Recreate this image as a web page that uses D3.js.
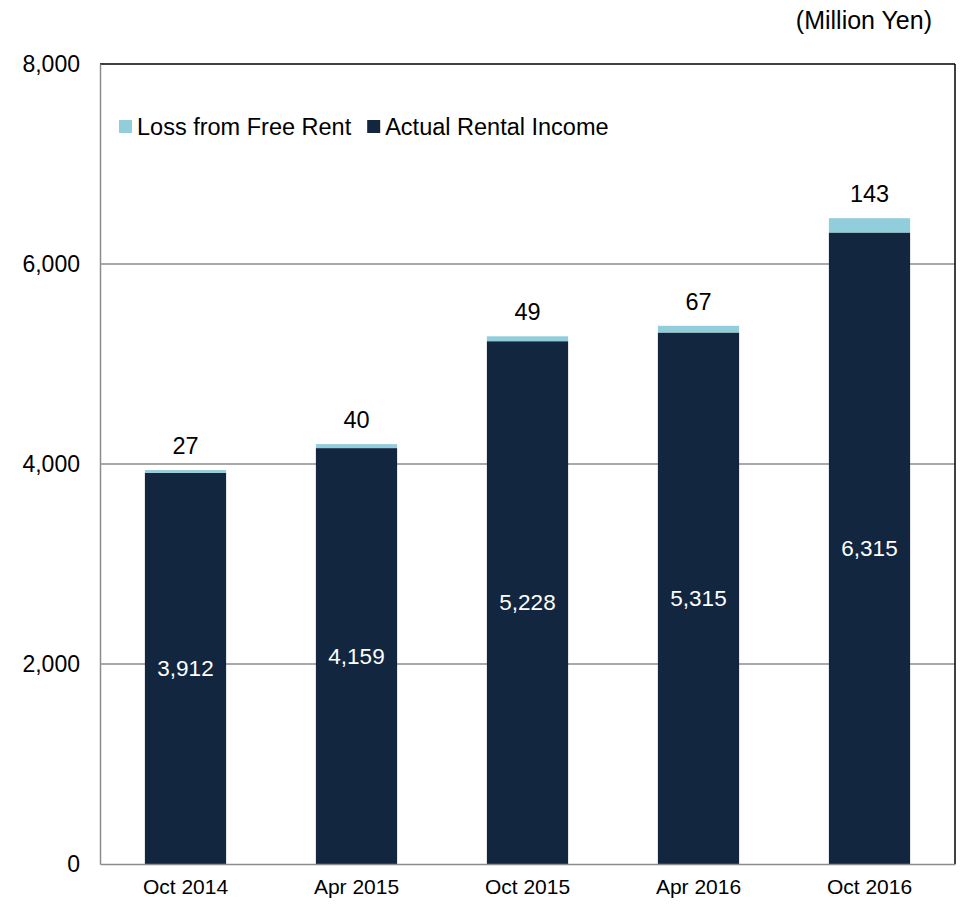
<!DOCTYPE html>
<html>
<head>
<meta charset="utf-8">
<script src="https://cdn.jsdelivr.net/npm/d3@7"></script>
<style>
  body { margin: 0; background: #fff; }
  svg { font-family: "Liberation Sans", Arial, sans-serif; }
</style>
</head>
<body>
<svg id="chart" width="964" height="904"></svg>
<script>
// chart data
var periods = ["Oct 2014", "Apr 2015", "Oct 2015", "Apr 2016", "Oct 2016"];
var actualIncome = [3912, 4159, 5228, 5315, 6315];
var freeRentLoss = [27, 40, 49, 67, 143];
var yTicks = [0, 2000, 4000, 6000, 8000];
var seriesNames = ["Loss from Free Rent", "Actual Rental Income"];
var colors = { loss: "#92cddc", actual: "#13263f" };

var margin = { top: 64, right: 9, bottom: 40, left: 100 };
var width = 964 - margin.left - margin.right,
    height = 904 - margin.top - margin.bottom;

var svg = d3.select("#chart");
var g = svg.append("g").attr("transform", `translate(${margin.left},${margin.top})`);

var x = d3.scaleBand().domain(periods).range([0, width]).paddingInner(0.525).paddingOuter(0.2625);
var y = d3.scaleLinear().domain([0, 8000]).range([height, 0]);

// gridlines
g.append("g").selectAll("line")
    .data(yTicks.filter(d => d > 0 && d < 8000))
    .join("line")
    .attr("x1", 0).attr("x2", width)
    .attr("y1", d => y(d)).attr("y2", d => y(d))
    .attr("stroke", "#8c8c8c").attr("stroke-width", 1.5);

// frame: top and right black
g.append("line").attr("x1", 0).attr("x2", width).attr("y1", y(8000)).attr("y2", y(8000))
    .attr("stroke", "#000").attr("stroke-width", 1.5);
g.append("line").attr("x1", width).attr("x2", width).attr("y1", 0).attr("y2", height)
    .attr("stroke", "#000").attr("stroke-width", 1.5);

var rows = periods.map((p, i) => ({ period: p, actual: actualIncome[i], loss: freeRentLoss[i] }));

// actual rental income
g.append("g").selectAll("rect")
    .data(rows)
    .join("rect")
    .attr("x", d => x(d.period))
    .attr("width", x.bandwidth())
    .attr("y", d => y(d.actual))
    .attr("height", d => y(0) - y(d.actual))
    .attr("fill", colors.actual);

// loss from free rent stacked on top
g.append("g").selectAll("rect")
    .data(rows)
    .join("rect")
    .attr("x", d => x(d.period))
    .attr("width", x.bandwidth())
    .attr("y", d => y(d.actual + d.loss))
    .attr("height", d => y(d.actual) - y(d.actual + d.loss))
    .attr("fill", colors.loss);

// inner labels
g.append("g").selectAll("text")
    .data(rows)
    .join("text")
    .attr("x", d => x(d.period) + x.bandwidth() / 2)
    .attr("y", d => y(d.actual / 2))
    .attr("dy", "0.35em")
    .attr("text-anchor", "middle")
    .attr("fill", "#fff")
    .attr("font-size", 22.5)
    .text(d => d3.format(",")(d.actual));

// top labels
g.append("g").selectAll("text")
    .data(rows)
    .join("text")
    .attr("x", d => x(d.period) + x.bandwidth() / 2)
    .attr("y", d => y(d.actual + d.loss) - 16)
    .attr("text-anchor", "middle")
    .attr("fill", "#000")
    .attr("font-size", 23.5)
    .text(d => d3.format(",")(d.loss));

// axes
var yAxis = g.append("g")
    .call(d3.axisLeft(y).tickValues(yTicks).tickFormat(d3.format(",")).tickSize(0).tickPadding(20));
yAxis.select(".domain").attr("stroke", "#8c8c8c").attr("stroke-width", 1.5);
yAxis.selectAll("text").attr("font-size", 23).attr("fill", "#000").attr("font-family", "Liberation Sans, Arial, sans-serif");

var xAxis = g.append("g")
    .attr("transform", `translate(0,${height})`)
    .call(d3.axisBottom(x).tickSize(0).tickPadding(15));
xAxis.select(".domain").attr("stroke", "#8c8c8c").attr("stroke-width", 1.5);
xAxis.selectAll("text").attr("font-size", 21).attr("fill", "#000").attr("font-family", "Liberation Sans, Arial, sans-serif");

// unit label
svg.append("text")
    .attr("x", 932).attr("y", 29)
    .attr("text-anchor", "end")
    .attr("font-size", 25)
    .text("(Million Yen)");

// legend
var legend = svg.append("g").attr("transform", "translate(119,127)");
var lx = 0;
seriesNames.forEach((name, i) => {
  var item = legend.append("g").attr("transform", `translate(${lx},0)`);
  item.append("rect").attr("x", 0).attr("y", -7).attr("width", 13).attr("height", 13)
      .attr("fill", i === 0 ? colors.loss : colors.actual);
  var t = item.append("text").attr("x", 18).attr("y", 0).attr("dy", "0.35em")
      .attr("font-size", 23.5).text(name);
  lx += 18 + t.node().getComputedTextLength() + 16;
});
</script>
</body>
</html>
